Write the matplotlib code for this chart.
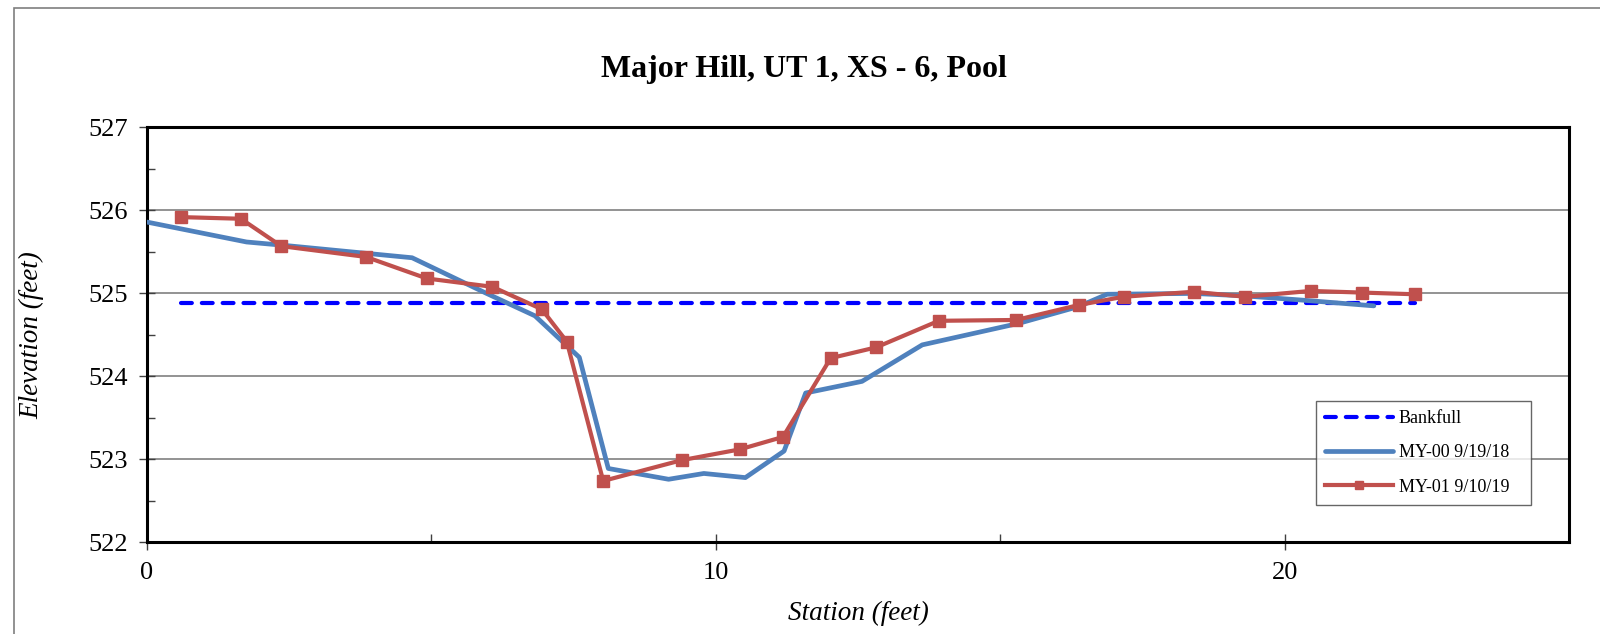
import matplotlib.pyplot as plt
from matplotlib.patches import Rectangle
from matplotlib.ticker import MultipleLocator

plt.rcParams['font.family'] = ['Liberation Serif', 'DejaVu Serif']

# MY-00 9/19/18 survey
st_00 = [0.0, 1.75, 2.4, 4.66, 5.97, 6.82, 7.6, 8.11, 9.17, 9.79, 10.52, 11.2, 11.58,
         12.57, 13.63, 15.33, 16.37, 16.88, 18.4, 19.3, 20.3, 21.57]
el_00 = [525.86, 525.62, 525.58, 525.43, 525.0, 524.73, 524.23, 522.89, 522.76, 522.83,
         522.78, 523.1, 523.8, 523.94, 524.38, 524.64, 524.84, 524.99, 525.0, 524.97,
         524.92, 524.85]

# MY-01 9/10/19 survey
st_01 = [0.59, 1.65, 2.36, 3.85, 4.92, 6.07, 6.94, 7.38, 8.02, 9.4, 10.42, 11.18, 12.02,
         12.82, 13.92, 15.28, 16.38, 17.17, 18.4, 19.31, 20.46, 21.37, 22.29]
el_01 = [525.92, 525.9, 525.57, 525.44, 525.18, 525.08, 524.81, 524.42, 522.74, 522.99,
         523.12, 523.27, 524.22, 524.35, 524.67, 524.68, 524.86, 524.96, 525.02, 524.96,
         525.03, 525.01, 524.99]

bankfull_st = [0.59, 22.29]
bankfull_el = [524.88, 524.88]

fig = plt.figure(figsize=(16, 6.34), dpi=100)
ax = fig.add_axes([0.0919, 0.1446, 0.8887, 0.6543])

# outer chart border
fig.patches.append(Rectangle((14 / 1600, -0.05), 1.2, 1 - 8 / 634 + 0.05,
                             transform=fig.transFigure, fill=False,
                             edgecolor='#7f7f7f', linewidth=1.2))

ax.plot(bankfull_st, bankfull_el, color='#0000ff', lw=3.0, ls=(0, (2.6, 2.4)),
        dash_capstyle='round', label='Bankfull', zorder=3)
ax.plot(st_00, el_00, color='#4f81bd', lw=3.4, solid_capstyle='round',
        label='MY-00 9/19/18', zorder=4)
ax.plot(st_01, el_01, color='#c0504d', lw=3.0, marker='s', markersize=8,
        label='MY-01 9/10/19', zorder=5)

ax.set_xlim(0, 25)
ax.set_ylim(522, 527)
ax.xaxis.set_major_locator(MultipleLocator(10))
ax.xaxis.set_minor_locator(MultipleLocator(5))
ax.yaxis.set_major_locator(MultipleLocator(1))
ax.yaxis.set_minor_locator(MultipleLocator(0.5))
ax.tick_params(axis='both', which='major', direction='inout', length=12, width=1,
               labelsize=19, pad=8, color='#404040')
ax.tick_params(axis='both', which='minor', direction='in', length=6, width=1,
               color='#404040')
ax.grid(axis='y', which='major', color='#808080', lw=1.2)
ax.set_axisbelow(True)
for s in ax.spines.values():
    s.set_linewidth(2.2)
    s.set_color('black')

ax.set_xlabel('Station (feet)', fontsize=19.5, style='italic')
ax.set_ylabel('Elevation (feet)', fontsize=19.5, style='italic')
ax.xaxis.set_label_coords(0.5, -0.141)
ax.yaxis.set_label_coords(-0.072, 0.5)
fig.text(0.5025, 0.89, 'Major Hill, UT 1, XS - 6, Pool', ha='center', va='center',
         fontsize=23, fontweight='bold')

leg = ax.legend(loc='upper left', bbox_to_anchor=(0.822, 0.34, 0.151, 0.0),
                mode='expand', borderaxespad=0, fontsize=13, frameon=True,
                fancybox=False, handlelength=3.8, borderpad=0.5, labelspacing=0.95,
                handletextpad=0.3, markerscale=0.8)
leg.get_frame().set_edgecolor('#404040')
leg.get_frame().set_linewidth(1)

fig.savefig('out.png', dpi=100)
